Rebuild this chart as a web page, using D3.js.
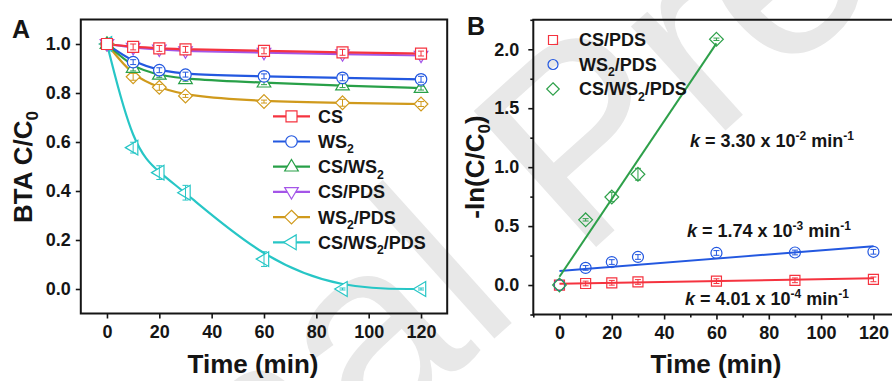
<!DOCTYPE html>
<html>
<head>
<meta charset="utf-8">
<script src="https://cdn.jsdelivr.net/npm/d3@7/dist/d3.min.js"></script>
<style>
  html, body { margin: 0; padding: 0; background: #fff; }
  svg { display: block; font-family: Arial, "Liberation Sans", sans-serif; }
</style>
</head>
<body>
<svg id="chart" width="892" height="381"></svg>
<script>
// ---------- Panel A: BTA C/C0 vs time ----------
const timeA = [0, 10, 20, 30, 60, 90, 120];
const csA        = [1.0, 0.988, 0.982, 0.978, 0.972, 0.966, 0.961];
const ws2A       = [1.0, 0.926, 0.893, 0.875, 0.868, 0.862, 0.856];
const csWs2A     = [1.0, 0.902, 0.874, 0.856, 0.842, 0.830, 0.820];
const csPdsA     = [1.0, 0.985, 0.978, 0.971, 0.965, 0.959, 0.953];
const ws2PdsA    = [1.0, 0.866, 0.823, 0.788, 0.765, 0.760, 0.755];
const csWs2PdsA  = [1.0, 0.577, 0.475, 0.393, 0.122, 0.0, 0.0];
const errCsA       = [0, 0.012, 0.012, 0.012, 0.012, 0.012, 0.010];
const errWs2A      = [0, 0.010, 0.010, 0.010, 0.010, 0.012, 0.012];
const errCsWs2A    = [0, 0.012, 0.010, 0.008, 0.008, 0.008, 0.008];
const errCsPdsA    = [0, 0.008, 0.008, 0.008, 0.008, 0.008, 0.008];
const errWs2PdsA   = [0, 0.014, 0.012, 0.006, 0.006, 0.014, 0.010];
const errCsWs2PdsA = [0, 0.022, 0.028, 0.030, 0.030, 0.004, 0.004];
const namesA = ["CS", "WS2", "CS/WS2", "CS/PDS", "WS2/PDS", "CS/WS2/PDS"];
const colorsA = ["#f5333f", "#2358e0", "#28a048", "#a455e8", "#d09a1c", "#27c6c6"];
const symbolsA = ["square", "circle", "triUp", "triDown", "diamond", "triLeft"];
const xTicksA = [0, 20, 40, 60, 80, 100, 120];
const yTicksA = [0.0, 0.2, 0.4, 0.6, 0.8, 1.0];

// ---------- Panel B: pseudo-first-order kinetics ----------
const timeB = [0, 10, 20, 30, 60, 90, 120];
const timeBFast = [0, 10, 20, 30, 60];
const csPdsB    = [0.0, 0.013, 0.019, 0.026, 0.033, 0.040, 0.048];
const ws2PdsB   = [0.0, 0.145, 0.195, 0.238, 0.272, 0.276, 0.282];
const csWs2PdsB = [0.0, 0.553, 0.747, 0.940, 2.085];
const errCsPdsB    = [0, 0.02, 0.02, 0.02, 0.02, 0.02, 0.02];
const errWs2PdsB   = [0, 0.02, 0.02, 0.02, 0.02, 0.02, 0.02];
const errCsWs2PdsB = [0, 0.01, 0.04, 0.05, 0.01];
const namesB = ["CS/PDS", "WS2/PDS", "CS/WS2/PDS"];
const colorsB = ["#f5333f", "#2358e0", "#2ea04a"];
const symbolsB = ["square", "circle", "diamond"];
const rateK = [4.01e-4, 1.74e-3, 3.30e-2];      // fitted slopes (min^-1)
const intercepts = [0.010, 0.120, 0.070];       // fitted intercepts
const fitEnd = [120, 120, 60];
const kLabels = [
  { mant: "4.01", exp: "-4" },
  { mant: "1.74", exp: "-3" },
  { mant: "3.30", exp: "-2" }
];
const xTicksB = [0, 20, 40, 60, 80, 100, 120];
const xMinorB = [-10, 10, 30, 50, 70, 90, 110, 130];
const yTicksB = [0.0, 0.5, 1.0, 1.5, 2.0];
const yMinorB = [-0.25, 0.25, 0.75, 1.25, 1.75, 2.25];

const svg = d3.select("#chart");
const INK = "#151515";

// faint diagonal watermark behind everything
svg.append("text")
  .attr("transform", "translate(578,138) rotate(-42)")
  .attr("text-anchor", "middle")
  .attr("dy", "0.35em")
  .attr("font-size", 266)
  .attr("font-family", "Arial, 'Liberation Sans', sans-serif")
  .attr("fill", "#e8e8e8")
  .text("Journal Pre-proof");

// marker path generator (centered at 0,0)
function markerPath(type, s) {
  const h = s / 2;
  switch (type) {
    case "square": return `M${-h},${-h}H${h}V${h}H${-h}Z`;
    case "circle": return `M${h},0A${h},${h} 0 1,1 ${-h},0A${h},${h} 0 1,1 ${h},0Z`;
    case "diamond": { const d = h * 1.25; return `M0,${-d}L${d},0L0,${d}L${-d},0Z`; }
    case "triUp": { const r = h * 1.3; return `M0,${-r}L${r * 0.95},${r * 0.6}L${-r * 0.95},${r * 0.6}Z`; }
    case "triDown": { const r = h * 1.3; return `M0,${r}L${r * 0.95},${-r * 0.6}L${-r * 0.95},${-r * 0.6}Z`; }
    case "triLeft": { const r = h * 1.3; return `M${-r},0L${r * 0.6},${-r * 0.95}L${r * 0.6},${r * 0.95}Z`; }
  }
  return "";
}

// label text where "WS2" gets a subscript 2
function addLabel(sel, label, fs) {
  const parts = label.split(/(WS2)/).filter(p => p.length);
  let shift = 0;
  parts.forEach(p => {
    if (p === "WS2") {
      sel.append("tspan").attr("dy", -shift).text("WS");
      sel.append("tspan").attr("font-size", fs * 0.68).attr("dy", fs * 0.3).text("2");
      shift = fs * 0.3;
    } else {
      sel.append("tspan").attr("dy", -shift).text(p);
      shift = 0;
    }
  });
}

function frame(g, x0, y0, x1, y1) {
  g.append("path")
    .attr("d", `M${x0},${y0}H${x1}V${y1}H${x0}Z`)
    .attr("fill", "none").attr("stroke", INK).attr("stroke-width", 2);
}

function styleAxis(g, fs) {
  g.select(".domain").remove();
  g.selectAll(".tick line").attr("stroke", INK).attr("stroke-width", 1.6);
  g.selectAll(".tick text").attr("fill", INK).attr("font-size", fs).attr("font-weight", "bold")
    .attr("font-family", "Arial, 'Liberation Sans', sans-serif");
}

// =============== Panel A ===============
const axA = { left: 80.8, right: 447.2, top: 19.5, bottom: 313.5 };
const xA = d3.scaleLinear().domain([-10, 130]).range([axA.left, axA.right]);
const yA = d3.scaleLinear().domain([-0.1, 1.1]).range([axA.bottom, axA.top]);
const gA = svg.append("g");

const gxA = gA.append("g").attr("transform", `translate(0,${axA.bottom})`)
  .call(d3.axisBottom(xA).tickValues(xTicksA).tickSize(5).tickPadding(7).tickFormat(d3.format("d")));
styleAxis(gxA, 18);
const gyA = gA.append("g").attr("transform", `translate(${axA.left},0)`)
  .call(d3.axisLeft(yA).tickValues(yTicksA).tickSize(5).tickPadding(5).tickFormat(d3.format(".1f")));
styleAxis(gyA, 18);
frame(gA, axA.left, axA.top, axA.right, axA.bottom);

const seriesA = [csA, ws2A, csWs2A, csPdsA, ws2PdsA, csWs2PdsA];
const errA = [errCsA, errWs2A, errCsWs2A, errCsPdsA, errWs2PdsA, errCsWs2PdsA];
const lineA = d3.line().x(d => xA(d[0])).y(d => yA(d[1])).curve(d3.curveBasis);

// draw traces back to front
const orderA = [5, 4, 2, 1, 3, 0];
orderA.forEach(i => {
  const pts = timeA.map((t, j) => [t, seriesA[i][j]]);
  gA.append("path").attr("d", lineA(pts)).attr("fill", "none")
    .attr("stroke", colorsA[i]).attr("stroke-width", 2.2);
});
const sizeA = [11, 11.5, 11, 11, 11, 12];
orderA.forEach(i => {
  const g = gA.append("g");
  timeA.forEach((t, j) => {
    const cx = xA(t), cy = yA(seriesA[i][j]);
    g.append("path").attr("transform", `translate(${cx},${cy})`)
      .attr("d", markerPath(symbolsA[i], sizeA[i]))
      .attr("fill", "#fff").attr("stroke", colorsA[i]).attr("stroke-width", 1.2);
    const e = errA[i][j];
    if (e > 0) {
      const y1 = yA(seriesA[i][j] + e), y2 = yA(seriesA[i][j] - e);
      g.append("path")
        .attr("d", `M${cx},${y1}V${y2}M${cx - 3},${y1}H${cx + 3}M${cx - 3},${y2}H${cx + 3}`)
        .attr("stroke", colorsA[i]).attr("stroke-width", 1).attr("fill", "none");
    }
  });
});

// legend A
namesA.forEach((name, i) => {
  const ly = 116.3 + i * 25.2;
  gA.append("line").attr("x1", 273).attr("x2", 310).attr("y1", ly).attr("y2", ly)
    .attr("stroke", colorsA[i]).attr("stroke-width", 2.2);
  gA.append("path").attr("transform", `translate(291.5,${ly})`)
    .attr("d", markerPath(symbolsA[i], sizeA[i]))
    .attr("fill", "#fff").attr("stroke", colorsA[i]).attr("stroke-width", 1.2);
  const t = gA.append("text").attr("x", 318).attr("y", ly + 6.4)
    .attr("font-size", 18).attr("font-weight", "bold").attr("fill", INK);
  addLabel(t, name, 18);
});

// axis titles A
gA.append("text").attr("x", 253).attr("y", 373).attr("text-anchor", "middle")
  .attr("font-size", 26).attr("font-weight", "bold").attr("fill", INK).text("Time (min)");
{
  const t = gA.append("text").attr("transform", "translate(32,167) rotate(-90)")
    .attr("text-anchor", "middle").attr("font-size", 26).attr("font-weight", "bold").attr("fill", INK);
  t.append("tspan").text("BTA C/C");
  t.append("tspan").attr("font-size", 17).attr("dy", 6).text("0");
}
gA.append("text").attr("x", 12).attr("y", 38).attr("font-size", 25).attr("font-weight", "bold")
  .attr("fill", INK).text("A");

// =============== Panel B ===============
const axB = { left: 533.3, right: 899.6, top: 19.8, bottom: 314.5 };
const xB = d3.scaleLinear().domain([-10, 130]).range([axB.left, axB.right]);
const yB = d3.scaleLinear().domain([-0.25, 2.25]).range([axB.bottom, axB.top]);
const gB = svg.append("g");

const gxBm = gB.append("g").attr("transform", `translate(0,${axB.bottom})`)
  .call(d3.axisBottom(xB).tickValues(xMinorB).tickSize(3).tickFormat(""));
styleAxis(gxBm, 18);
const gxB = gB.append("g").attr("transform", `translate(0,${axB.bottom})`)
  .call(d3.axisBottom(xB).tickValues(xTicksB).tickSize(5).tickPadding(7).tickFormat(d3.format("d")));
styleAxis(gxB, 18);
const gyBm = gB.append("g").attr("transform", `translate(${axB.left},0)`)
  .call(d3.axisLeft(yB).tickValues(yMinorB).tickSize(3).tickFormat(""));
styleAxis(gyBm, 18);
const gyB = gB.append("g").attr("transform", `translate(${axB.left},0)`)
  .call(d3.axisLeft(yB).tickValues(yTicksB).tickSize(5).tickPadding(9).tickFormat(d3.format(".1f")));
styleAxis(gyB, 18);
frame(gB, axB.left, axB.top, axB.right, axB.bottom);

// fitted lines y = intercept + k t
rateK.forEach((k, i) => {
  const pts = [0, fitEnd[i]].map(t => [t, intercepts[i] + k * t]);
  gB.append("path").attr("d", d3.line().x(d => xB(d[0])).y(d => yB(d[1]))(pts))
    .attr("fill", "none").attr("stroke", colorsB[i]).attr("stroke-width", 2);
});

const seriesB = [
  { t: timeB, v: csPdsB, e: errCsPdsB },
  { t: timeB, v: ws2PdsB, e: errWs2PdsB },
  { t: timeBFast, v: csWs2PdsB, e: errCsWs2PdsB }
];
const sizeB = [10, 11, 11];
seriesB.forEach((s, i) => {
  s.t.forEach((t, j) => {
    const cx = xB(t), cy = yB(s.v[j]);
    gB.append("path").attr("transform", `translate(${cx},${cy})`)
      .attr("d", markerPath(symbolsB[i], sizeB[i]))
      .attr("fill", "none").attr("stroke", colorsB[i]).attr("stroke-width", 1.2);
    const e = s.e[j];
    if (e > 0) {
      const y1 = yB(s.v[j] + e), y2 = yB(s.v[j] - e);
      gB.append("path")
        .attr("d", `M${cx},${y1}V${y2}M${cx - 3},${y1}H${cx + 3}M${cx - 3},${y2}H${cx + 3}`)
        .attr("stroke", colorsB[i]).attr("stroke-width", 1).attr("fill", "none");
    }
  });
});

// legend B (symbols only)
namesB.forEach((name, i) => {
  const ly = 40 + i * 24.5;
  gB.append("path").attr("transform", `translate(553,${ly})`)
    .attr("d", markerPath(symbolsB[i], [9, 10, 10][i]))
    .attr("fill", "none").attr("stroke", colorsB[i]).attr("stroke-width", 1.2);
  const t = gB.append("text").attr("x", 579).attr("y", ly + 6.4)
    .attr("font-size", 18).attr("font-weight", "bold").attr("fill", INK);
  addLabel(t, name, 18);
});

// rate constant annotations
const kPos = [[685, 304.5], [687, 237], [690, 147]];
kLabels.forEach((kl, i) => {
  const t = gB.append("text").attr("x", kPos[i][0]).attr("y", kPos[i][1])
    .attr("font-size", 18).attr("font-weight", "bold").attr("fill", INK);
  t.append("tspan").attr("font-style", "italic").text("k");
  t.append("tspan").text(` = ${kl.mant} x 10`);
  t.append("tspan").attr("font-size", 12).attr("dy", -7).text(kl.exp);
  t.append("tspan").attr("dy", 7).text(" min");
  t.append("tspan").attr("font-size", 12).attr("dy", -7).text("-1");
});

// axis titles B
gB.append("text").attr("x", 716).attr("y", 373).attr("text-anchor", "middle")
  .attr("font-size", 26).attr("font-weight", "bold").attr("fill", INK).text("Time (min)");
{
  const t = gB.append("text").attr("transform", "translate(484,167) rotate(-90)")
    .attr("text-anchor", "middle").attr("font-size", 26).attr("font-weight", "bold").attr("fill", INK);
  t.append("tspan").text("-ln(C/C");
  t.append("tspan").attr("font-size", 17).attr("dy", 6).text("0");
  t.append("tspan").attr("dy", -6).text(")");
}
gB.append("text").attr("x", 467).attr("y", 35).attr("font-size", 25).attr("font-weight", "bold")
  .attr("fill", INK).text("B");
</script>
</body>
</html>
